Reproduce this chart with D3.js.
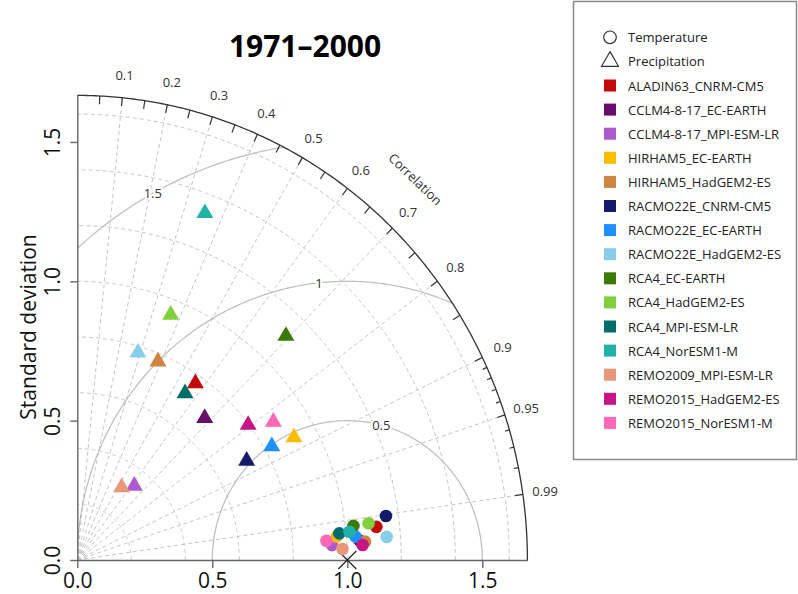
<!DOCTYPE html>
<html>
<head>
<meta charset="utf-8">
<script src="https://cdn.jsdelivr.net/npm/d3@7"></script>
<style>
  body { margin: 0; background: #fff; }
  text { font-family: 'Open Sans', sans-serif; }
</style>
</head>
<body>
<script>
let models = ['ALADIN63_CNRM-CM5', 'CCLM4-8-17_EC-EARTH', 'CCLM4-8-17_MPI-ESM-LR', 'HIRHAM5_EC-EARTH',
  'HIRHAM5_HadGEM2-ES', 'RACMO22E_CNRM-CM5', 'RACMO22E_EC-EARTH', 'RACMO22E_HadGEM2-ES', 'RCA4_EC-EARTH',
  'RCA4_HadGEM2-ES', 'RCA4_MPI-ESM-LR', 'RCA4_NorESM1-M', 'REMO2009_MPI-ESM-LR', 'REMO2015_HadGEM2-ES',
  'REMO2015_NorESM1-M']
let colors = ['#c40a0a', '#680d6c', '#ad5acf', '#ffbb00', '#cd853f', '#141b6b', '#1e90ff', '#87ceeb',
  '#3b7a07', '#80cf3d', '#006d6d', '#20b2aa', '#e9967a', '#c71585', '#ff69b4']

// temperature (circles)
let tempSd = [1.114, 1.048, 0.945, 0.964, 1.068, 1.154, 1.034, 1.149, 1.030, 1.087, 0.975, 1.013, 0.983, 1.058, 0.925]
let tempCor = [0.9943, 0.9978, 0.9984, 0.9962, 0.9981, 0.9906, 0.9967, 0.9974, 0.9929, 0.9926, 0.9952, 0.9950, 0.9992, 0.9987, 0.9972]
// precipitation (triangles)
let precSd = [0.770, 0.694, 0.340, 0.915, 0.772, 0.721, 0.828, 0.777, 1.115, 0.945, 0.719, 1.331, 0.308, 0.797, 0.879]
let precCor = [0.568, 0.680, 0.621, 0.877, 0.387, 0.870, 0.870, 0.289, 0.693, 0.366, 0.555, 0.355, 0.533, 0.794, 0.826]

let sdTicks = [0, 0.5, 1, 1.5]
let sdGrid = [0.2, 0.4, 0.6, 0.8, 1, 1.2, 1.4, 1.6]
let corLabels = [0.1, 0.2, 0.3, 0.4, 0.5, 0.6, 0.7, 0.8, 0.9, 0.95, 0.99]
let rmsLevels = [0.5, 1, 1.5]
let maxSd = 1.667

let width = 798
let height = 594

let svg = d3.select('body')
  .append('svg')
  .attr('width', width)
  .attr('height', height)

let x = d3.scaleLinear().domain([0, maxSd]).range([77.3, 77.3 + maxSd * 270])
let y = d3.scaleLinear().domain([0, maxSd]).range([560, 560 - maxSd * 278.7])

let polar = (r, a, cx = 0) => [x(cx + r * Math.cos(a)), y(r * Math.sin(a))]
let arcPts = (r, a0, a1, cx = 0) => d3.range(0, 241).map(i => polar(r, a0 + (a1 - a0) * i / 240, cx))
let line = d3.line()

// clip to the quarter
svg.append('clipPath')
  .attr('id', 'quarter')
  .append('path')
  .attr('d', line([[x(0), y(0)]].concat(arcPts(maxSd, 0, Math.PI / 2))) + 'Z')

let grid = svg.append('g').attr('clip-path', 'url(#quarter)')

grid.selectAll('.sdgrid')
  .data(sdGrid)
  .enter()
  .append('path')
  .attr('d', d => line(arcPts(d, 0, Math.PI / 2)))
  .attr('fill', 'none')
  .attr('stroke', '#c4c4c4')
  .attr('stroke-width', 1)
  .attr('stroke-dasharray', '4,3')

grid.selectAll('.corgrid')
  .data(corLabels)
  .enter()
  .append('path')
  .attr('d', d => line([polar(0, Math.acos(d)), polar(maxSd, Math.acos(d))]))
  .attr('fill', 'none')
  .attr('stroke', '#c4c4c4')
  .attr('stroke-width', 1)
  .attr('stroke-dasharray', '4,3')

grid.selectAll('.rms')
  .data(rmsLevels)
  .enter()
  .append('path')
  .attr('d', d => line(arcPts(d, 0, Math.PI, 1)))
  .attr('fill', 'none')
  .attr('stroke', '#bdbdbd')
  .attr('stroke-width', 1.2)

// rms labels
let rmsAngle = { 0.5: 75.4, 1: 96, 1.5: 118.7 }
svg.selectAll('.rmslab')
  .data(rmsLevels)
  .enter()
  .append('text')
  .text(d => d)
  .attr('x', d => polar(d, rmsAngle[d] * Math.PI / 180, 1)[0])
  .attr('y', d => polar(d, rmsAngle[d] * Math.PI / 180, 1)[1])
  .attr('text-anchor', 'middle')
  .attr('dominant-baseline', 'central')
  .attr('font-size', 13)
  .attr('fill', '#333')
  .attr('stroke', '#fff')
  .attr('stroke-width', 4)
  .attr('paint-order', 'stroke')

// outer arc + ticks
svg.append('path')
  .attr('d', line(arcPts(maxSd, 0, Math.PI / 2)))
  .attr('fill', 'none')
  .attr('stroke', '#333')
  .attr('stroke-width', 1.3)

let corTicks = d3.range(1, 19).map(i => ({ c: i * 0.05, len: 0.03 }))
  .concat(d3.range(91, 100).map(i => ({ c: i / 100, len: (i == 95 || i == 99) ? 0.03 : 0.017 })))

svg.selectAll('.cortick')
  .data(corTicks)
  .enter()
  .append('path')
  .attr('d', d => line([polar(maxSd, Math.acos(d.c)), polar(maxSd - d.len, Math.acos(d.c))]))
  .attr('stroke', '#333')
  .attr('stroke-width', 1.2)

svg.selectAll('.corlab')
  .data(corLabels)
  .enter()
  .append('text')
  .text(d => d)
  .attr('x', d => polar(1.75, Math.acos(d))[0])
  .attr('y', d => polar(1.75, Math.acos(d))[1])
  .attr('text-anchor', 'middle')
  .attr('dominant-baseline', 'central')
  .attr('font-size', 13)
  .attr('fill', '#333')

let cPos = polar(1.854, 47.5 * Math.PI / 180)
svg.append('text')
  .text('Correlation')
  .attr('transform', 'translate(' + cPos[0] + ',' + cPos[1] + ') rotate(44)')
  .attr('text-anchor', 'middle')
  .attr('dominant-baseline', 'central')
  .attr('font-size', 13)
  .attr('fill', '#333')

// axes
let xAxis = svg.append('g')
  .attr('transform', 'translate(0,' + y(0) + ')')
  .call(d3.axisBottom(x).tickValues(sdTicks).tickFormat(d3.format('.1f')).tickSize(8).tickSizeOuter(0).tickPadding(5))
xAxis.selectAll('text').attr('font-size', 21).attr('font-family', "'Open Sans', sans-serif").attr('fill', '#111')

let yAxis = svg.append('g')
  .attr('transform', 'translate(' + x(0) + ',0)')
  .call(d3.axisLeft(y).tickValues(sdTicks).tickFormat(d3.format('.1f')).tickSize(7).tickSizeOuter(0))
yAxis.selectAll('text')
  .attr('x', null)
  .attr('dy', null)
  .attr('transform', 'translate(-17,0) rotate(-90)')
  .attr('text-anchor', 'middle')
  .attr('font-size', 21)
  .attr('font-family', "'Open Sans', sans-serif")
  .attr('fill', '#111')

svg.selectAll('.domain, .tick line').attr('stroke', '#666').attr('stroke-width', 1.4)

svg.append('text')
  .text('Standard deviation')
  .attr('transform', 'translate(36,327) rotate(-90)')
  .attr('text-anchor', 'middle')
  .attr('font-size', 21)
  .attr('fill', '#111')

// reference point
svg.append('path')
  .attr('d', 'M-9,-9L9,9M-9,9L9,-9')
  .attr('transform', 'translate(' + x(1) + ',' + y(0) + ')')
  .attr('stroke', '#222')
  .attr('stroke-width', 1.2)

// markers
svg.selectAll('.temp')
  .data(models)
  .enter()
  .append('circle')
  .attr('cx', (d, i) => polar(tempSd[i], Math.acos(tempCor[i]))[0])
  .attr('cy', (d, i) => polar(tempSd[i], Math.acos(tempCor[i]))[1])
  .attr('r', 6.3)
  .attr('fill', (d, i) => colors[i])

svg.selectAll('.prec')
  .data(models)
  .enter()
  .append('path')
  .attr('d', d3.symbol(d3.symbolTriangle, 125))
  .attr('transform', (d, i) => 'translate(' + polar(precSd[i], Math.acos(precCor[i])) + ')')
  .attr('fill', (d, i) => colors[i])

// title
svg.append('text')
  .text('1971–2000')
  .attr('x', 305)
  .attr('y', 57)
  .attr('text-anchor', 'middle')
  .attr('font-size', 30)
  .attr('font-weight', 'bold')
  .attr('fill', '#000')

// legend
let legend = svg.append('g')
legend.append('rect')
  .attr('x', 573.5)
  .attr('y', 1.5)
  .attr('width', 223)
  .attr('height', 458)
  .attr('fill', '#fff')
  .attr('stroke', '#888')
  .attr('stroke-width', 1.5)

let rowY = i => 37.3 + i * 24.1

legend.append('circle')
  .attr('cx', 610).attr('cy', rowY(0)).attr('r', 6.3)
  .attr('fill', 'none').attr('stroke', '#333').attr('stroke-width', 1.2)
legend.append('path')
  .attr('d', d3.symbol(d3.symbolTriangle, 125))
  .attr('transform', 'translate(610,' + rowY(1) + ')')
  .attr('fill', 'none').attr('stroke', '#333').attr('stroke-width', 1.2)

legend.selectAll('.kind')
  .data(['Temperature', 'Precipitation'])
  .enter()
  .append('text')
  .text(d => d)
  .attr('x', 628)
  .attr('y', (d, i) => rowY(i))
  .attr('dominant-baseline', 'central')
  .attr('font-size', 13)
  .attr('fill', '#222')

legend.selectAll('.sw')
  .data(models)
  .enter()
  .append('rect')
  .attr('x', 604)
  .attr('y', (d, i) => rowY(i + 2) - 6)
  .attr('width', 12)
  .attr('height', 12)
  .attr('fill', (d, i) => colors[i])

legend.selectAll('.lab')
  .data(models)
  .enter()
  .append('text')
  .text(d => d)
  .attr('x', 628)
  .attr('y', (d, i) => rowY(i + 2))
  .attr('dominant-baseline', 'central')
  .attr('font-size', 13)
  .attr('fill', '#222')
</script>
</body>
</html>
